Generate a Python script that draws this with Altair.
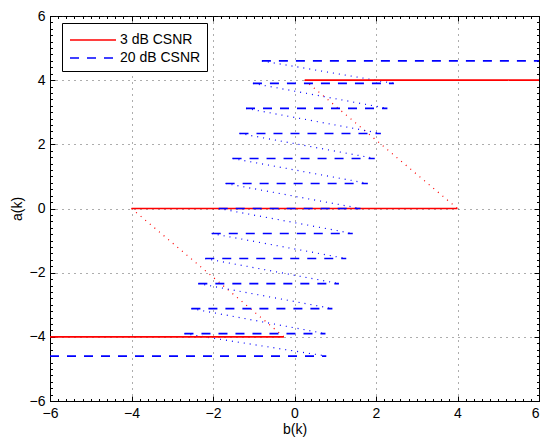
import altair as alt
import pandas as pd

series = ["3 dB CSNR", "20 dB CSNR"]

# 3 dB CSNR: horizontal segments (level, left end, right end)
levels_3 = [4.0, 0.0, -4.0]
starts_3 = [0.25, -4.0, -6.0]
ends_3 = [6.0, 4.0, -0.26]

# 20 dB CSNR
levels_20 = [4.6, 3.9, 3.12, 2.34, 1.56, 0.78, 0.0, -0.78, -1.56, -2.34, -3.12, -3.9, -4.6]
starts_20 = [-0.80, -1.02, -1.19, -1.35, -1.52, -1.69, -1.86, -2.03, -2.19, -2.36, -2.53, -2.70, -6.0]
ends_20 = [6.0, 2.44, 2.28, 2.12, 1.97, 1.80, 1.62, 1.43, 1.27, 1.09, 0.93, 0.76, 0.78]

x_ticks = [-6, -4, -2, 0, 2, 4, 6]
y_ticks = [-6, -4, -2, 0, 2, 4, 6]
minor_ticks = [round(-6 + 0.2 * i, 1) for i in range(61)]

FONT = "Liberation Sans"


def segs(name, lv, st, en):
    return [{"series": name, "x0": s, "x1": e, "y": l} for l, s, e in zip(lv, st, en)]


def conns(name, lv, st, en):
    rows = []
    for i in range(len(lv) - 1):
        rows.append({"series": name, "xa": st[i], "ya": lv[i], "xb": en[i + 1], "yb": lv[i + 1]})
    return rows


seg_df = pd.DataFrame(segs(series[0], levels_3, starts_3, ends_3) +
                      segs(series[1], levels_20, starts_20, ends_20))
con_df = pd.DataFrame(conns(series[0], levels_3, starts_3, ends_3) +
                      conns(series[1], levels_20, starts_20, ends_20))

xs = alt.Scale(domain=[-6, 6], nice=False, zero=False)
ys = alt.Scale(domain=[-6, 6], nice=False, zero=False)
color_scale = alt.Scale(domain=series, range=["#ff0000", "#0000ff"])
dash_scale = alt.Scale(domain=series, range=[[1, 0], [9, 8]])


def tick_axis(orient, values, size):
    return alt.Axis(orient=orient, values=values, labels=False, domain=False,
                    grid=False, ticks=True, tickSize=size, offset=-size,
                    tickColor="black", tickWidth=1, title=None)


x_axis = alt.Axis(orient="bottom", values=x_ticks, title="b(k)", grid=True, ticks=False,
                  labelPadding=5, titlePadding=2, format="d",
                  labelAlign={"expr": "datum.value >= 6 ? 'right' : 'center'"})
y_axis = alt.Axis(orient="left", values=y_ticks, title="a(k)", grid=True, ticks=False,
                  labelPadding=5, titlePadding=5, format="d")

legend = alt.Legend(title=None, orient="none", legendX=12, legendY=7,
                    symbolType="M-2.3,0H2.3", symbolSize=400, symbolStrokeWidth=1.6,
                    symbolOffset=14, labelOffset=16,
                    labelFontSize=14, labelFont=FONT, labelColor="black",
                    strokeColor="black", fillColor="white", padding=6,
                    rowPadding=-3)


def tick_layer(xo, yo, values, size):
    return alt.Chart(seg_df).mark_rule(opacity=0).encode(
        x=alt.X("x0:Q", scale=xs, axis=tick_axis(xo, values, size)),
        y=alt.Y("y:Q", scale=ys, axis=tick_axis(yo, values, size)),
    )


major_bl = tick_layer("bottom", "left", x_ticks, 5)
major_tr = tick_layer("top", "right", x_ticks, 5)
minor_bl = tick_layer("bottom", "left", minor_ticks, 2.5)
minor_tr = tick_layer("top", "right", minor_ticks, 2.5)

base_conn = alt.Chart(con_df).mark_rule(strokeWidth=1.2, strokeDash=[1, 5]).encode(
    x=alt.X("xa:Q", scale=xs, axis=None),
    y=alt.Y("ya:Q", scale=ys, axis=None),
    x2="xb:Q",
    y2="yb:Q",
)
red_conn = base_conn.transform_filter(alt.datum.series == series[0]).encode(color=alt.value("#ff0000"))
blue_conn = base_conn.transform_filter(alt.datum.series == series[1]).encode(color=alt.value("#0000ff"))

segments = alt.Chart(seg_df).mark_rule(strokeWidth=1.6).encode(
    x=alt.X("x0:Q", scale=xs, axis=x_axis),
    x2="x1:Q",
    y=alt.Y("y:Q", scale=ys, axis=y_axis),
    color=alt.Color("series:N", scale=color_scale, legend=legend, sort=series),
    strokeDash=alt.StrokeDash("series:N", scale=dash_scale, legend=legend, sort=series),
)

chart = alt.layer(major_bl, major_tr, minor_bl, minor_tr, red_conn, blue_conn, segments).resolve_axis(
    x="independent", y="independent"
).properties(
    width=489, height=385,
    background="white",
    autosize=alt.AutoSizeParams(type="none"),
    padding={"left": 42, "top": 8, "right": 1, "bottom": 40},
).configure_view(
    stroke="black", strokeWidth=1
).configure_axis(
    labelFont=FONT, titleFont=FONT, labelFontSize=14, titleFontSize=14,
    labelColor="black", titleColor="black", titleFontWeight="normal",
    domainColor="black", gridColor="#333333", gridDash=[1, 5], gridWidth=1,
    gridOpacity=0.8,
)

chart.save("out.html", embed_options={"renderer": "svg", "actions": False})
